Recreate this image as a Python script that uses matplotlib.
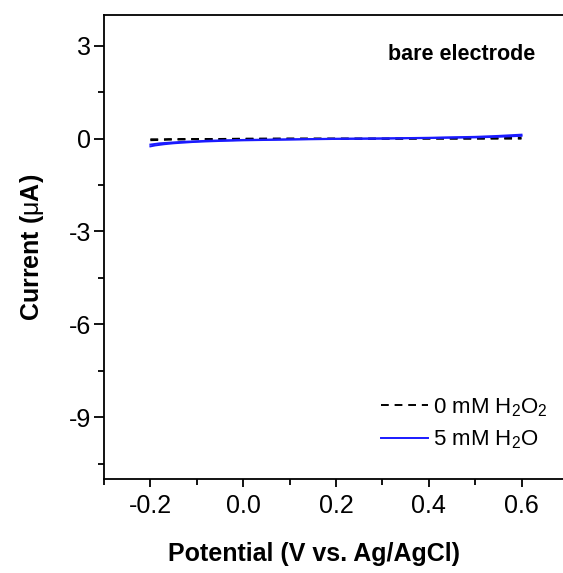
import matplotlib.pyplot as plt
from matplotlib.ticker import MultipleLocator

plt.rcParams['font.family'] = ['Liberation Sans', 'DejaVu Sans']
plt.rcParams['mathtext.fontset'] = 'custom'
plt.rcParams['mathtext.rm'] = 'Liberation Sans'
plt.rcParams['mathtext.it'] = 'Liberation Sans'

# potential (V) and current (uA), forward / reverse sweeps
pot = [-0.2, -0.19, -0.18, -0.17, -0.16, -0.15, -0.13, -0.11, -0.08, -0.05, 0.0,
       0.1, 0.2, 0.3, 0.4, 0.5, 0.55, 0.6]
cur_0mM_fwd = [-0.05, -0.045, -0.04, -0.035, -0.03, -0.03, -0.025, -0.02, -0.02, -0.015, -0.01,
               0.0, 0.0, 0.0, 0.0, 0.0, 0.0, 0.0]
cur_0mM_rev = [-0.02, -0.02, -0.02, -0.02, -0.015, -0.015, -0.01, -0.01, -0.01, -0.01, 0.0,
               0.0, 0.0, 0.0, 0.01, 0.01, 0.02, 0.03]
cur_5mM_fwd = [-0.25, -0.22, -0.2, -0.18, -0.165, -0.15, -0.13, -0.11, -0.09, -0.075, -0.055,
               -0.03, -0.01, 0.0, 0.02, 0.04, 0.06, 0.09]
cur_5mM_rev = [-0.19, -0.17, -0.15, -0.14, -0.13, -0.12, -0.1, -0.09, -0.07, -0.055, -0.04,
               -0.02, 0.0, 0.01, 0.03, 0.06, 0.09, 0.13]

fig = plt.figure(figsize=(5.63, 5.73), dpi=100)
# the right edge of the frame is cut off in the reference
ax = fig.add_axes([0.1847, 0.164, 0.824, 0.810])

ax.plot(pot, cur_0mM_fwd, color='black', ls=(0, (4, 3)), lw=1.4, label='0 mM H$_2$O$_2$')
ax.plot(pot, cur_0mM_rev, color='black', ls=(0, (4, 3)), lw=1.4)
ax.plot(pot, cur_5mM_fwd, color='#1a1aff', lw=1.4, label='5 mM H$_2$O')
ax.plot(pot, cur_5mM_rev, color='#1a1aff', lw=1.4)

ax.set_xlim(-0.3, 0.7)
ax.set_ylim(-11, 4)
ax.xaxis.set_major_locator(MultipleLocator(0.2))
ax.xaxis.set_minor_locator(MultipleLocator(0.1))
ax.yaxis.set_major_locator(MultipleLocator(3))
ax.yaxis.set_minor_locator(MultipleLocator(1.5))
ax.xaxis.set_major_formatter(plt.FuncFormatter(lambda v, p: f'{v:.1f}'))
ax.yaxis.set_major_formatter(plt.FuncFormatter(lambda v, p: f'{v:.0f}'))

for s in ax.spines.values():
    s.set_linewidth(1.3)
ax.tick_params(which='both', direction='out', labelsize=18, width=1.3)
ax.tick_params(axis='x', which='major', length=6, pad=5)
ax.tick_params(axis='y', which='major', length=7, pad=2)
ax.tick_params(which='minor', length=4)

ax.set_xlabel('Potential (V vs. Ag/AgCl)', fontsize=18, fontweight='bold')
ax.xaxis.set_label_coords(0.4526, -0.135)
ax.set_ylabel('Current ($\\mu$A)', fontsize=18, fontweight='bold')
ax.yaxis.set_label_coords(-0.125, 0.5)

ax.text(0.629, 2.71, 'bare electrode', fontsize=15.5, fontweight='bold', ha='right', va='center')
ax.legend(loc='center right', bbox_to_anchor=(0.976, 0.119), frameon=False, fontsize=16,
          handlelength=2.1, handletextpad=0.25, labelspacing=0.45, borderaxespad=0)

fig.savefig('out.png', dpi=100)
